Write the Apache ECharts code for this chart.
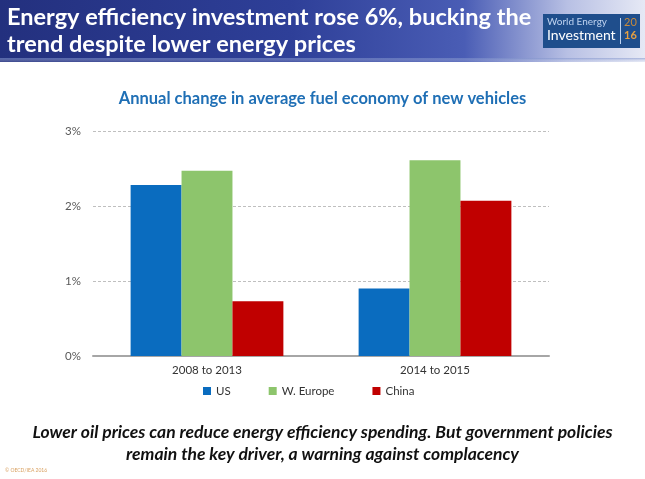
<!DOCTYPE html>
<html><head><meta charset="utf-8">
<script src="https://cdn.jsdelivr.net/npm/echarts@6/dist/echarts.min.js"></script>
<style>html,body{margin:0;padding:0;background:#fff}#c{width:645px;height:479px}</style>
</head><body><div id="c"></div>
<script>
const categories = ['2008 to 2013', '2014 to 2015'];
const seriesNames = ['US', 'W. Europe', 'China'];
const usValues = [2.28, 0.90];
const europeValues = [2.47, 2.61];
const chinaValues = [0.73, 2.07];
const yTicks = [0, 1, 2, 3];

const colors = ['#0A6CBF', '#8DC56C', '#C00000'];
const chart = echarts.init(document.getElementById('c'));
const font = 'Lato, "Open Sans", sans-serif';
chart.setOption({
  animation: false,
  color: colors,
  textStyle: { fontFamily: font },
  title: {
    text: 'Annual change in average fuel economy of new vehicles',
    left: 'center', top: 85,
    textStyle: { color: '#1F6FB5', fontSize: 16.5, fontWeight: 'bold', fontFamily: font }
  },
  legend: {
    bottom: 77, left: 198,
    itemWidth: 8, itemHeight: 8, itemGap: 38, icon: 'rect',
    textStyle: { color: '#333', fontSize: 11.5, fontFamily: font },
    data: seriesNames
  },
  grid: { left: 93, right: 96, top: 131, bottom: 123 },
  xAxis: {
    type: 'category', data: categories,
    axisLine: { lineStyle: { color: '#A6A6A6', width: 2 } },
    axisTick: { show: false },
    axisLabel: { color: '#333', fontSize: 11.5, margin: 8 }
  },
  yAxis: {
    type: 'value', min: yTicks[0], max: yTicks[yTicks.length - 1], interval: 1,
    axisLabel: { formatter: '{value}%', color: '#595959', fontSize: 11.5, margin: 12 },
    splitLine: { lineStyle: { color: '#BFBFBF', type: [3, 2] } },
    axisLine: { show: false }, axisTick: { show: false }
  },
  series: [
    { name: seriesNames[0], type: 'bar', data: usValues, barGap: '0%', barCategoryGap: '33%' },
    { name: seriesNames[1], type: 'bar', data: europeValues },
    { name: seriesNames[2], type: 'bar', data: chinaValues }
  ],
  graphic: [
    { type: 'rect', left: 0, top: 0, z: 0, shape: { width: 645, height: 62 },
      style: { fill: new echarts.graphic.LinearGradient(0, 0, 1, 0, [
        { offset: 0, color: '#23307E' }, { offset: 0.45, color: '#2E3F98' },
        { offset: 0.72, color: '#4A5DB5' }, { offset: 0.88, color: '#B8C0E4' }, { offset: 1, color: '#E6E9F5' }]) } },
    { type: 'rect', left: 0, top: 58, z: 0, shape: { width: 645, height: 5 },
      style: { fill: new echarts.graphic.LinearGradient(0, 0, 0, 1, [
        { offset: 0, color: 'rgba(120,140,200,0.6)' }, { offset: 1, color: 'rgba(255,255,255,0)' }]) } },
    { type: 'text', left: 7, top: 4, z: 2,
      style: { text: 'Energy efficiency investment rose 6%, bucking the\ntrend despite lower energy prices',
        fill: '#fff', font: 'bold 23.5px ' + font, lineHeight: 27 } },
    { type: 'rect', left: 543, top: 14, z: 2, shape: { width: 97, height: 34 }, style: { fill: '#1F4E8C' } },
    { type: 'text', left: 547, top: 17, z: 3, style: { text: 'World Energy', fill: '#BFD3F0', font: '10px ' + font } },
    { type: 'text', left: 547, top: 28, z: 3, style: { text: 'Investment', fill: '#fff', font: '14px ' + font } },
    { type: 'rect', left: 620, top: 18, z: 3, shape: { width: 1, height: 26 }, style: { fill: '#BFD3F0' } },
    { type: 'text', left: 624, top: 17, z: 3, style: { text: '20', fill: '#C98A3A', font: '11px ' + font } },
    { type: 'text', left: 624, top: 30, z: 3, style: { text: '16', fill: '#E8A040', font: 'bold 11px ' + font } },
    { type: 'text', left: 'center', top: 421, z: 2,
      style: { text: 'Lower oil prices can reduce energy efficiency spending. But government policies\nremain the key driver, a warning against complacency',
        fill: '#111', font: 'italic bold 17.5px ' + font, lineHeight: 22, textAlign: 'center' } },
    { type: 'text', left: 5, top: 468, z: 2, style: { text: '© OECD/IEA 2016', fill: '#D9A060', font: '5px ' + font } }
  ]
});
</script></body></html>
